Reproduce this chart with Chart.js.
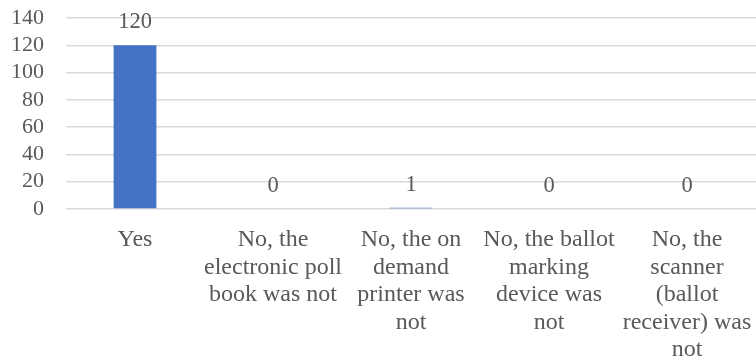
<!DOCTYPE html>
<html>
<head>
<meta charset="utf-8">
<script src="https://cdn.jsdelivr.net/npm/chart.js@4.4.0/dist/chart.umd.min.js"></script>
<style>
  html, body { margin: 0; padding: 0; background: #fff; }
  #wrap { width: 756px; height: 358px; position: relative; }
</style>
</head>
<body>
<div id="wrap"><canvas id="chart"></canvas></div>
<script>
// categorias (rótulos do eixo X, quebrados em linhas)
const categories = [
  ["Yes"],
  ["No, the", "electronic poll", "book was not"],
  ["No, the on", "demand", "printer was", "not"],
  ["No, the ballot", "marking", "device was", "not"],
  ["No, the", "scanner", "(ballot", "receiver) was", "not"]
];
// valores da série
const counts = [120, 0, 1, 0, 0];
// marcas do eixo Y
const yTicks = [0, 20, 40, 60, 80, 100, 120, 140];

const fontFamily = "'Liberation Serif', 'Times New Roman', serif";
const textColor = "#595959";

// plugin simples para escrever o valor acima de cada barra
const valueLabels = {
  id: "valueLabels",
  afterDatasetsDraw(chart) {
    const ctx = chart.ctx;
    const meta = chart.getDatasetMeta(0);
    ctx.save();
    ctx.font = "22.5px " + fontFamily;
    ctx.fillStyle = textColor;
    ctx.textAlign = "center";
    ctx.textBaseline = "middle";
    meta.data.forEach((bar, i) => {
      ctx.fillText(String(counts[i]), bar.x, bar.y - 23);
    });
    ctx.restore();
  }
};

new Chart(document.getElementById("chart"), {
  type: "bar",
  data: {
    labels: categories,
    datasets: [{
      data: counts,
      backgroundColor: "#4472C4",
      borderWidth: 0,
      categoryPercentage: 1,
      barPercentage: 0.31
    }]
  },
  options: {
    responsive: true,
    maintainAspectRatio: false,
    animation: false,
    layout: { padding: { top: 18, left: 10, right: 0, bottom: 0 } },
    plugins: { legend: { display: false }, tooltip: { enabled: false } },
    scales: {
      x: {
        grid: { display: false },
        border: { display: false },
        afterFit(axis) {
          axis.height = 149;
          axis.paddingLeft = 0;
          axis.paddingRight = 0;
        },
        ticks: {
          color: textColor,
          font: { family: fontFamily, size: 24, lineHeight: 1.15 },
          maxRotation: 0,
          autoSkip: false,
          padding: 9
        }
      },
      y: {
        min: 0,
        max: 140,
        afterBuildTicks(axis) {
          axis.ticks = yTicks.map((v) => ({ value: v }));
        },
        afterFit(axis) {
          axis.width = 56;
          axis.paddingTop = 0;
          axis.paddingBottom = 0;
        },
        grid: { color: "#d9d9d9", lineWidth: 1.5, drawTicks: false },
        border: { display: false },
        ticks: {
          color: textColor,
          font: { family: fontFamily, size: 22 },
          autoSkip: false,
          padding: 22
        }
      }
    }
  },
  plugins: [valueLabels]
});
</script>
</body>
</html>
